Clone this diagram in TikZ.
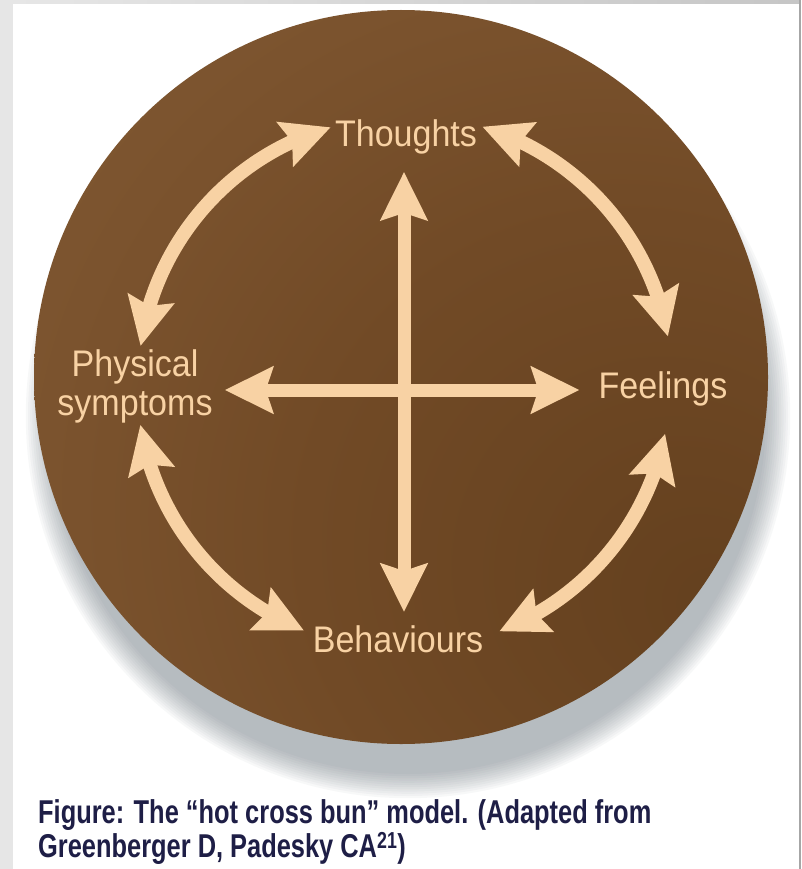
\documentclass[tikz,border=0pt]{standalone}
\usepackage{fontspec}
\setmainfont{Liberation Sans}
\newfontfamily\labelfont[FakeStretch=0.92]{Liberation Sans}
\newfontfamily\capfont[FakeStretch=0.77]{Liberation Sans}
\usetikzlibrary{positioning,arrows.meta,bending,calc}

\definecolor{bunpeach}{HTML}{F8D2A4}
\definecolor{capnavy}{HTML}{1E1E46}
\definecolor{framegray}{HTML}{E6E6E6}
\definecolor{edgegray}{HTML}{A6A6A6}
\definecolor{shadowgray}{HTML}{5C6670}
\definecolor{bunA}{RGB}{100,64,30}
\definecolor{bunB}{RGB}{113,74,38}
\definecolor{bunC}{RGB}{122,82,45}
\definecolor{bunD}{RGB}{132,92,54}
\definecolor{bunE}{RGB}{154,116,76}
\definecolor{bunF}{RGB}{174,138,98}

\pgfdeclareradialshading{bunshading}{\pgfpoint{22bp}{-16bp}}{%
  color(0bp)=(bunA); color(22bp)=(bunB); color(34bp)=(bunC);
  color(50bp)=(bunD); color(62bp)=(bunE); color(74bp)=(bunF)}

\begin{document}
\begin{tikzpicture}[x=1pt, y=-1pt,
  bunlabel/.style={font=\labelfont\fontsize{37}{39}\selectfont, text=bunpeach, inner sep=0pt},
  crossarrow/.style={{Stealth[length=48pt,width=46pt,inset=7pt]}-{Stealth[length=48pt,width=46pt,inset=7pt]}, line width=13pt, draw=bunpeach},
  ringarrow/.style={crossarrow, line width=14pt},
  caption/.style={font=\capfont\bfseries\fontsize{33}{34}\selectfont, text=capnavy, inner sep=0pt, align=left}
]
\useasboundingbox (0,0) rectangle (801,869);

% frame
\fill[framegray] (0,0) rectangle (801,869);
\shade[left color=framegray, right color=gray!45] (13,0) rectangle (799,4);
\fill[white] (13,4) rectangle (799,869);
\fill[edgegray] (799,0) rectangle (801,869);

% soft shadow under the bun
\foreach \k in {0,...,11}
  \fill[shadowgray, opacity=0.045] (408,416) circle[radius=358+2.2*\k];

% the bun
\node[circle, minimum size=734pt, inner sep=0pt, shading=bunshading] (bun) at (401,377) {};

\coordinate (mid) at (404,390);
\coordinate (ringc) at (404,383);

% labels
\node[bunlabel, anchor=base] (thoughts) at (406,147) {Thoughts};
\node[bunlabel, anchor=base] (feel) at (663,398) {Feelings};
\node[bunlabel, anchor=base] (behav) at (398,652) {Behaviours};
\node[bunlabel, align=center] (phys) at (135,386) {Physical\\symptoms};

% the cross
\draw[crossarrow, shorten <=17pt, shorten >=13pt] (thoughts.south -| mid) -- (behav.north -| mid);
\draw[crossarrow, shorten <=12pt, shorten >=19pt] (phys.east |- mid) -- (feel.west |- mid);

% ring arrows
\coordinate (tl) at ($(ringc)+(188:266)$);
\coordinate (tr) at ($(ringc)+(287:268)$);
\coordinate (br) at ($(ringc)+(11:266)$);
\coordinate (bl) at ($(ringc)+(112:267)$);
\draw[ringarrow] (tl) arc[start angle=188, end angle=254, radius=266];
\draw[ringarrow] (tr) arc[start angle=287, end angle=350, radius=268];
\draw[ringarrow] (br) arc[start angle=11, end angle=69, radius=266];
\draw[ringarrow] (bl) arc[start angle=112, end angle=171, radius=267];

% caption
\node[caption, anchor=north west] (figcap) at (38,799)
  {Figure: The “hot cross bun” model. (Adapted from\\Greenberger D, Padesky CA\textsuperscript{21})};
\end{tikzpicture}
\end{document}
